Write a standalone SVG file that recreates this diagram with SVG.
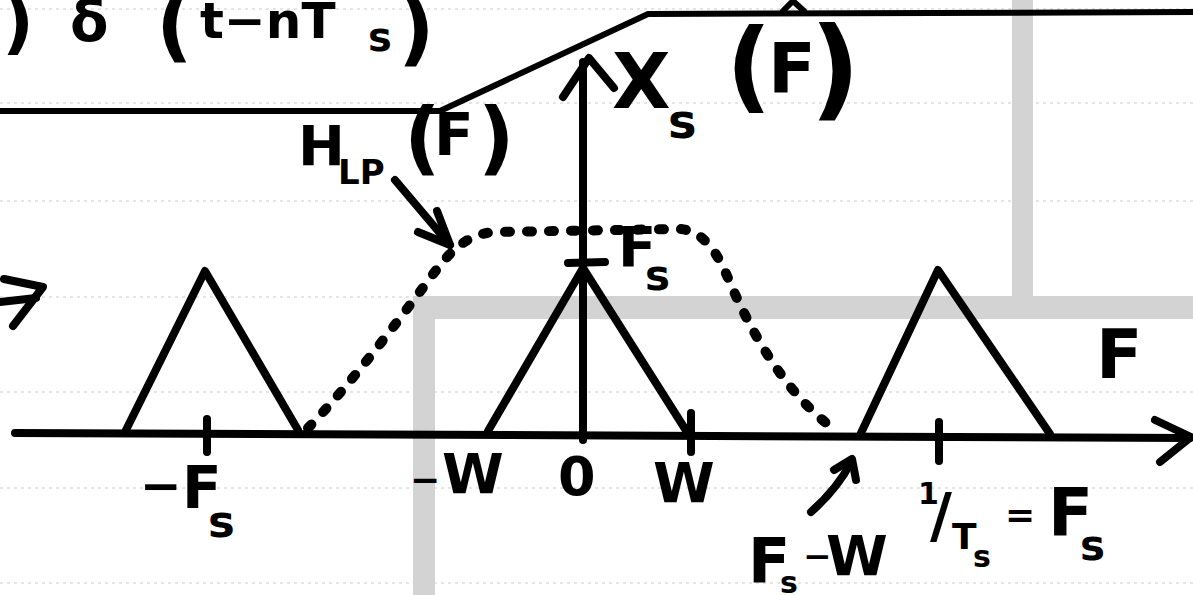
<svg xmlns="http://www.w3.org/2000/svg" width="1193" height="595" viewBox="0 0 1193 595">
<style>
.ln{fill:none;stroke:#000;stroke-width:8;stroke-linecap:round;stroke-linejoin:round}
.th{fill:none;stroke:#000;stroke-width:6;stroke-linecap:round;stroke-linejoin:round}
.rule{stroke:#b8b8b8;stroke-width:1.2;stroke-dasharray:3 4;opacity:0.7}
.band{fill:#d3d3d3}
text{font-family:"DejaVu Sans","Liberation Sans",sans-serif;font-weight:bold;fill:#000}
</style>
<rect width="1193" height="595" fill="#fff"/>
<g id="paper">
<line class="rule" x1="0" y1="9" x2="1193" y2="9"/>
<line class="rule" x1="0" y1="103" x2="1193" y2="103"/>
<line class="rule" x1="0" y1="201" x2="1193" y2="201"/>
<line class="rule" x1="0" y1="297" x2="1193" y2="297"/>
<line class="rule" x1="0" y1="392" x2="1193" y2="392"/>
<line class="rule" x1="0" y1="488" x2="1193" y2="488"/>
<line class="rule" x1="0" y1="583" x2="1193" y2="583"/>
<rect class="band" x="1012" y="0" width="21" height="297"/>
<rect class="band" x="415" y="296" width="778" height="23"/>
<rect class="band" x="413" y="296" width="22" height="299"/>
</g>
<g id="top-formula">
<text x="2" y="46" font-size="70">)</text>
<text x="70" y="41" font-size="56">δ</text>
<text x="156" y="52" font-size="80">(</text>
<text x="200" y="38" font-size="50">t−nT</text>
<text x="368" y="51" font-size="40">s</text>
<text x="398" y="56" font-size="80">)</text>
</g>
<g id="filter-response">
<path class="th" d="M0,111 L440,111 L648,14 L1193,12"/>
<path class="th" d="M783,11 L793,1 L804,11"/>
</g>
<g id="left-arrow">
<path class="ln" d="M4,279 L43,287 L13,326"/>
<path class="ln" d="M0,302 L36,298"/>
</g>
<g id="axes">
<path class="ln" d="M15,433 L1190,438"/>
<path class="ln" d="M1155,420 L1191,437 L1160,462"/>
<path class="ln" d="M583,440 L583,62"/>
<path class="ln" d="M563,97 L589,58 L614,88"/>
<path class="ln" d="M207,419 L207,452"/>
<path class="ln" d="M691,413 L691,452"/>
<path class="ln" d="M939,422 L939,461"/>
<path class="ln" d="M568,263 L605,262"/>
</g>
<g id="spectrum">
<path class="ln" d="M126,430 L205,271 L298,430"/>
<path class="ln" d="M488,431 L583,268 L687,432"/>
<path class="ln" d="M861,433 L938,270 L1050,434"/>
</g>
<g id="lowpass-curve">
<path d="M308,428 C350,385 395,325 425,285 C445,258 462,234 495,232 L680,229 C705,231 718,255 728,278 C750,330 785,395 838,432" fill="none" stroke="#000" stroke-width="10" stroke-linecap="round" stroke-dasharray="5 17"/>
</g>
<g id="connectors">
<path class="ln" d="M395,180 L450,245"/>
<path class="ln" d="M418,232 L450,245 L437,211"/>
<path class="ln" d="M811,512 Q838,488 851,462"/>
<path class="ln" d="M834,470 L852,459 L856,480"/>
</g>
<g id="label-hlp">
<text x="298" y="165" font-size="56">H</text>
<text x="338" y="184" font-size="34">LP</text>
<text x="404" y="165" font-size="80">(</text>
<text x="434" y="155" font-size="58">F</text>
<text x="478" y="165" font-size="80">)</text>
</g>
<g id="label-xs">
<text x="612" y="108" font-size="76">X</text>
<text x="668" y="138" font-size="48">s</text>
<text x="726" y="100" font-size="100">(</text>
<text x="768" y="93" font-size="70">F</text>
<text x="810" y="106" font-size="110">)</text>
</g>
<g id="label-fs-top">
<text x="618" y="266" font-size="56">F</text>
<text x="645" y="290" font-size="42">s</text>
</g>
<g id="label-F">
<text x="1096" y="378" font-size="68">F</text>
</g>
<g id="label-neg-fs">
<text x="140" y="503" font-size="50">−</text>
<text x="182" y="508" font-size="58">F</text>
<text x="208" y="537" font-size="45">s</text>
</g>
<g id="label-neg-w">
<text x="410" y="492" font-size="36">−</text>
<text x="442" y="493" font-size="56">W</text>
</g>
<g id="label-zero">
<text x="558" y="495" font-size="54">0</text>
</g>
<g id="label-w">
<text x="653" y="502" font-size="56">W</text>
</g>
<g id="label-fs-w">
<text x="748" y="582" font-size="62">F</text>
<text x="780" y="593" font-size="30">s</text>
<text x="803" y="568" font-size="34">−</text>
<text x="826" y="575" font-size="56">W</text>
</g>
<g id="label-1ts">
<text x="918" y="504" font-size="30">1</text>
<text x="930" y="536" font-size="60">/</text>
<text x="952" y="549" font-size="36">T</text>
<text x="973" y="567" font-size="30">s</text>
<text x="1005" y="527" font-size="36">=</text>
<text x="1048" y="535" font-size="66">F</text>
<text x="1080" y="560" font-size="42">s</text>
</g>
</svg>
